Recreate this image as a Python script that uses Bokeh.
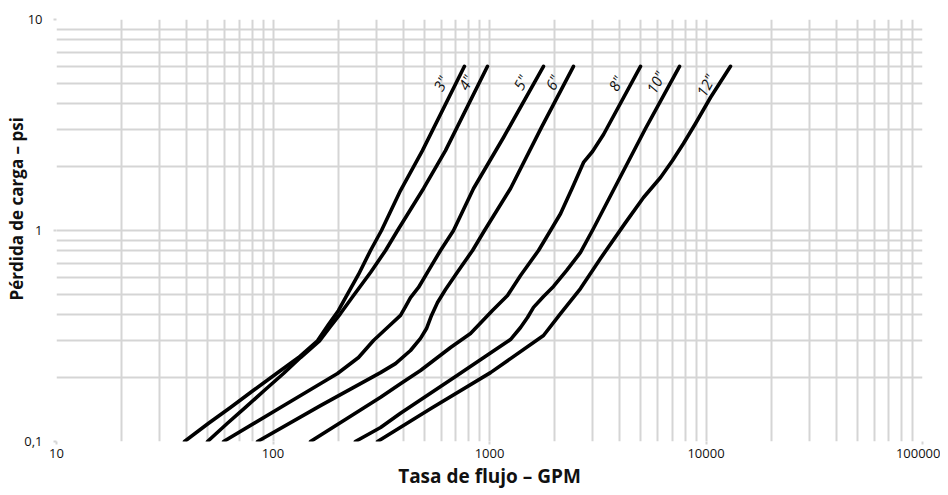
from bokeh.plotting import figure
from bokeh.models import FixedTicker, Title, ColumnDataSource
from bokeh.core.properties import value
from bokeh.embed import file_html
from bokeh.resources import INLINE

# ---- data (GPM vs psi) ----
x_3 = [39.0, 50.4, 63.6, 81.3, 103.8, 131.2, 160.5, 180.4, 200.7, 216.3, 248.3, 282.1, 317, 388, 490, 766]
y_3 = [0.1, 0.122, 0.145, 0.175, 0.21, 0.25, 0.30, 0.358, 0.418, 0.481, 0.619, 0.804, 1.0, 1.547, 2.39, 6.0]

x_4 = [49.8, 61.6, 74.6, 91.4, 111.8, 134, 164, 184.3, 205, 235.5, 282.1, 331, 376, 496, 626, 979]
y_4 = [0.1, 0.122, 0.145, 0.175, 0.21, 0.25, 0.30, 0.351, 0.404, 0.492, 0.632, 0.804, 1.0, 1.582, 2.39, 6.0]

x_5 = [59.1, 108.3, 198.6, 248.3, 291.2, 341.7, 388.1, 409.3, 431.6, 470, 522.6, 593.9, 682, 843.7, 1160.5, 1776]
y_5 = [0.1, 0.145, 0.21, 0.25, 0.301, 0.351, 0.396, 0.436, 0.481, 0.537, 0.646, 0.804, 1.0, 1.582, 2.759, 6.0]

x_6 = [84.8, 165.7, 313.7, 367.9, 431.6, 480.1, 511.7, 539.7, 575.3, 626.4, 719.4, 834.9, 948.2, 1250.5, 1738, 2443]
y_6 = [0.1, 0.148, 0.212, 0.234, 0.270, 0.308, 0.343, 0.396, 0.456, 0.525, 0.646, 0.804, 1.0, 1.582, 3.08, 6.0]

x_8 = [149, 216, 314, 388, 480, 661, 817, 1032, 1211, 1391, 1684, 1913, 2128, 2417, 2718, 2991, 3362, 4984]
y_8 = [0.1, 0.127, 0.162, 0.188, 0.217, 0.279, 0.325, 0.418, 0.492, 0.612, 0.804, 1.0, 1.20, 1.599, 2.101, 2.368, 2.851, 6.0]

x_10 = [240, 314, 388, 697, 1250, 1391, 1498, 1597, 1776, 1975, 2268, 2632, 3022, 4029, 5256, 7547]
y_10 = [0.1, 0.1165, 0.136, 0.203, 0.304, 0.347, 0.387, 0.432, 0.487, 0.543, 0.646, 0.787, 1.022, 1.803, 3.043, 6.0]

x_12 = [304, 534, 1011, 1776, 2128, 2632, 3256, 4248, 5145, 6165, 7003, 7870, 8944, 10490, 12980]
y_12 = [0.1, 0.143, 0.212, 0.318, 0.404, 0.531, 0.737, 1.09, 1.433, 1.783, 2.147, 2.584, 3.215, 4.269, 6.0]

series_names = ['3"', '4"', '5"', '6"', '8"', '10"', '12"']
series_x = [x_3, x_4, x_5, x_6, x_8, x_10, x_12]
series_y = [y_3, y_4, y_5, y_6, y_8, y_10, y_12]

# label anchor positions (data units) for the pipe-size labels
label_x = [594, 775, 1391, 1954, 3820, 5845, 9948]
label_y = [4.97, 5.03, 5.03, 5.03, 4.97, 5.03, 4.87]

x_ticks = [10, 100, 1000, 10000, 100000]
x_tick_labels = ["10", "100", "1000", "10000", "100000"]
y_ticks = [0.1, 1, 10]
y_tick_labels = ["0,1", "1", "10"]

x_title = "Tasa de flujo – GPM"
y_title = "Pérdida de carga – psi"

FONT = "Open Sans"
GRID = "#d5d5d5"
INK = "#111111"

p = figure(width=940, height=495, x_axis_type="log", y_axis_type="log",
           x_range=(10, 100000), y_range=(0.1, 10),
           output_backend="svg", toolbar_location=None,
           min_border_left=56, min_border_right=18, min_border_top=19,
           min_border_bottom=54)
p.outline_line_color = None
p.background_fill_color = "white"

x_minor = [m * t for t in x_ticks[:-1] for m in range(2, 10)]
y_minor = [m * t for t in y_ticks[:-1] for m in range(2, 10)]
p.xaxis.ticker = FixedTicker(ticks=x_ticks, minor_ticks=x_minor)
p.yaxis.ticker = FixedTicker(ticks=y_ticks, minor_ticks=y_minor)
p.xaxis.major_label_overrides = dict(zip(x_ticks, x_tick_labels))
p.yaxis.major_label_overrides = dict(zip(y_ticks, y_tick_labels))

for ax in (p.xaxis, p.yaxis):
    ax.axis_line_color = None
    ax.major_tick_line_color = GRID
    ax.major_tick_line_width = 2
    ax.major_tick_out = 3
    ax.major_tick_in = 0
    ax.minor_tick_line_color = None
    ax.major_label_text_font = FONT
    ax.major_label_text_font_size = "13px"
    ax.major_label_text_color = INK

p.xaxis.major_label_standoff = 3
p.yaxis.major_label_standoff = 10
p.xaxis.axis_label = x_title
p.xaxis.axis_label_text_font = FONT
p.xaxis.axis_label_text_font_style = "bold"
p.xaxis.axis_label_text_font_size = "19px"
p.xaxis.axis_label_text_color = INK
p.xaxis.axis_label_standoff = 2

for g in (p.xgrid, p.ygrid):
    g.grid_line_color = GRID
    g.grid_line_width = 2
    g.minor_grid_line_color = GRID
    g.minor_grid_line_width = 2

for xs, ys in zip(series_x, series_y):
    p.line(xs, ys, line_color="black", line_width=3.6,
           line_join="round", line_cap="round")

src = ColumnDataSource(dict(x=label_x, y=label_y, t=series_names))
p.text(x="x", y="y", text="t", source=src, angle=62, angle_units="deg",
       text_font=value(FONT), text_font_style="italic", text_font_size="15px",
       text_align="center", text_baseline="middle", text_color=INK)

p.add_layout(Title(text=y_title, align="left", offset=141, standoff=-12,
                   vertical_align="bottom",
                   text_font=FONT, text_font_style="bold", text_font_size="17px",
                   text_color=INK), "left")

open("out.html", "w").write(file_html(p, INLINE))
